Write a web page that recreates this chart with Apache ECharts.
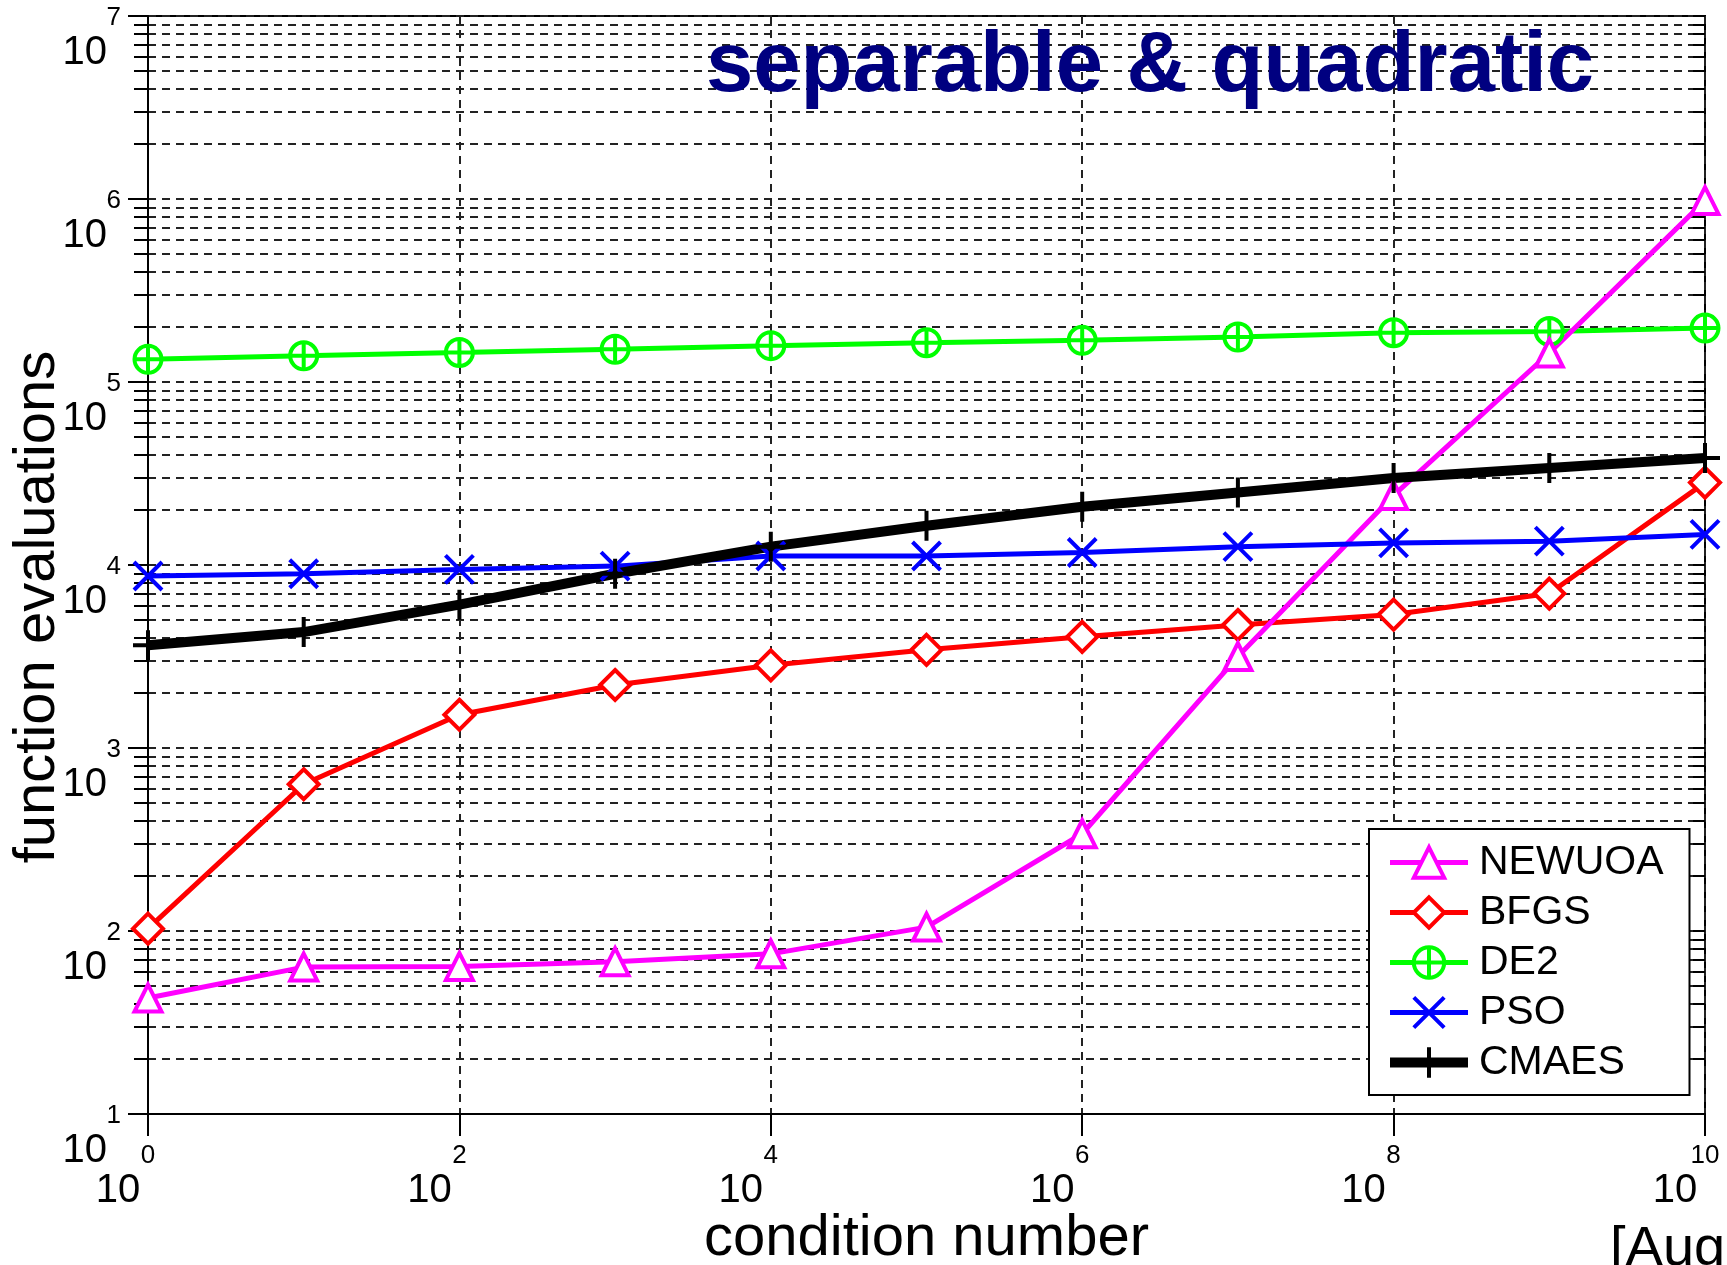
<!DOCTYPE html>
<html>
<head>
<meta charset="utf-8">
<script src="https://cdn.jsdelivr.net/npm/echarts@6/dist/echarts.min.js"></script>
<style>
html,body{margin:0;padding:0;background:#fff;}
#main{width:1727px;height:1265px;}
</style>
</head>
<body>
<div id="main"></div>
<script>
// condition numbers 10^0 .. 10^10
var condNumbers=[1e0,1e1,1e2,1e3,1e4,1e5,1e6,1e7,1e8,1e9,1e10];
// function evaluations
var newuoa=[43,63.5,64,68,75,105,340,3160,24000,144000,980000];
var bfgs=[103,634,1520,2210,2830,3440,4050,4700,5360,6980,28200];
var de2=[133000,139000,145000,151000,158000,164000,169000,176000,186000,189000,197000];
var pso=[8710,8960,9460,9860,11200,11200,11700,12600,13200,13500,14700];
var cmaes=[3640,4300,6070,8960,12600,16400,20800,24900,29900,33900,38400];

var xTickValues=[1e0,1e2,1e4,1e6,1e8,1e10];
var yDecadeValues=[1e1,1e2,1e3,1e4,1e5,1e6,1e7];
var minorSteps=[1,2,3,4,5,6,7,8,9];

var yTickValues=[];
for(var i=0;i<yDecadeValues.length-1;i++){
	for(var j=0;j<minorSteps.length;j++){
		yTickValues.push(yDecadeValues[i]*minorSteps[j]);
	}
}
yTickValues.push(1e7);

var FONT='Liberation Sans, Arial, Helvetica, sans-serif';
var plusPath='path://M5,0L5,10M0,5L10,5';
var crossPath='path://M0,0L10,10M10,0L0,10';
var circlePlusPath='path://M0,10A10,10,0,1,1,20,10A10,10,0,1,1,0,10ZM10,0L10,20M0,10L20,10';

function expLabel(v){
	var k=Math.round(Math.log(v)/Math.LN10);
	return '{e|'+k+'}\n{b|10}';
}

function pairs(arr){
	var res=[];
	for(var i=0;i<condNumbers.length;i++){
		res.push([condNumbers[i],arr[i]]);
	}
	return res;
}

function mkSeries(name,arr,color,symbol,size,width){
	return {
		name:name,
		type:'line',
		data:pairs(arr),
		symbol:symbol,
		symbolSize:size,
		clip:true,
		lineStyle:{color:color,width:width},
		itemStyle:{color:'#fff',borderColor:color,borderWidth:4},
		emphasis:{disabled:true},
		animation:false
	};
}

var myChart=echarts.init(document.getElementById('main'));
var option={
	animation:false,
	backgroundColor:'#fff',
	title:{
		text:'separable & quadratic',
		left:706,
		top:25,
		padding:0,
		textStyle:{fontSize:85,fontWeight:'bold',color:'#000080',fontFamily:FONT}
	},
	grid:{
		left:148,right:22,top:16,bottom:151,
		show:true,borderColor:'#000',borderWidth:2,backgroundColor:'rgba(0,0,0,0)',
		containLabel:false,
		outerBoundsMode:'none'
	},
	legend:{
		data:[
			{name:'NEWUOA',lineStyle:{width:5},itemStyle:{borderWidth:4}},
			{name:'BFGS',lineStyle:{width:5},itemStyle:{borderWidth:4}},
			{name:'DE2',lineStyle:{width:5},itemStyle:{borderWidth:4}},
			{name:'PSO',lineStyle:{width:5},itemStyle:{borderWidth:4}},
			{name:'CMAES',lineStyle:{width:10},itemStyle:{borderWidth:4}}
		],
		orient:'vertical',
		left:1369,top:829,
		itemWidth:78,itemHeight:38,itemGap:9,
		padding:[13,26,12,16],
		backgroundColor:'#fff',borderColor:'#000',borderWidth:2,borderRadius:0,
		selectedMode:false,
		textStyle:{fontSize:41,fontFamily:FONT,color:'#000',lineHeight:38,padding:[0,0,0,6]}
	},
	xAxis:[{
		type:'log',logBase:10,min:1,max:1e10,position:'bottom',
		name:'condition number',nameLocation:'middle',nameGap:96,nameMoveOverlap:false,
		nameTextStyle:{fontSize:58,fontFamily:FONT,color:'#000'},
		axisLine:{show:true,lineStyle:{color:'#000',width:2}},
		axisTick:{show:true,customValues:xTickValues,length:22,inside:false,lineStyle:{color:'#000',width:2}},
		axisLabel:{
			customValues:xTickValues,margin:27,formatter:expLabel,color:'#000',
			rich:{
				e:{fontSize:26,lineHeight:30,fontFamily:FONT,color:'#000'},
				b:{fontSize:40,lineHeight:40,fontFamily:FONT,color:'#000',padding:[0,60,0,0]}
			}
		},
		splitLine:{show:true,lineStyle:{color:'#222',width:2,type:[8,6]}},
		minorTick:{show:false},minorSplitLine:{show:false}
	}],
	yAxis:[{
		type:'log',logBase:10,min:10,max:1e7,position:'left',
		name:'function evaluations',nameLocation:'middle',nameGap:81,nameRotate:90,nameMoveOverlap:false,
		nameTextStyle:{fontSize:58,fontFamily:FONT,color:'#000',padding:[0,84,0,0]},
		axisLine:{show:true,lineStyle:{color:'#000',width:2}},
		axisTick:{show:true,customValues:yTickValues,length:14,inside:false,lineStyle:{color:'#000',width:2}},
		axisLabel:{
			customValues:yDecadeValues,margin:27,formatter:expLabel,align:'right',verticalAlign:'top',color:'#000',
			rich:{
				e:{fontSize:26,lineHeight:4,fontFamily:FONT,color:'#000',align:'right'},
				b:{fontSize:40,lineHeight:66,fontFamily:FONT,color:'#000',align:'right',padding:[0,14,0,0]}
			}
		},
		splitLine:{show:true,lineStyle:{color:'#222',width:2,type:[8,6]}},
		minorTick:{show:false},minorSplitLine:{show:false}
	},{
		type:'log',logBase:10,min:10,max:1e7,position:'left',
		axisLine:{show:false},
		axisTick:{show:true,customValues:yDecadeValues,length:20,inside:false,lineStyle:{color:'#000',width:2}},
		axisLabel:{show:false},
		splitLine:{show:false}
	},{
		type:'log',logBase:10,min:10,max:1e7,position:'right',
		axisLine:{show:false},
		axisTick:{show:true,customValues:yTickValues,length:12,inside:true,lineStyle:{color:'#000',width:2}},
		axisLabel:{show:false},
		splitLine:{show:false}
	}],
	graphic:[{
		type:'text',left:1610,top:1222,
		style:{text:'[Auger et al. 2009]',font:'56px '+FONT,fill:'#000'}
	}],
	series:[
		mkSeries('BFGS',bfgs,'#ff0000','diamond',30,5),
		mkSeries('DE2',de2,'#00ff00',circlePlusPath,27,5),
		mkSeries('NEWUOA',newuoa,'#ff00ff','triangle',27,5),
		mkSeries('PSO',pso,'#0000ff',crossPath,28,5),
		mkSeries('CMAES',cmaes,'#000000',plusPath,30,10)
	]
};
myChart.setOption(option);
</script>
</body>
</html>
